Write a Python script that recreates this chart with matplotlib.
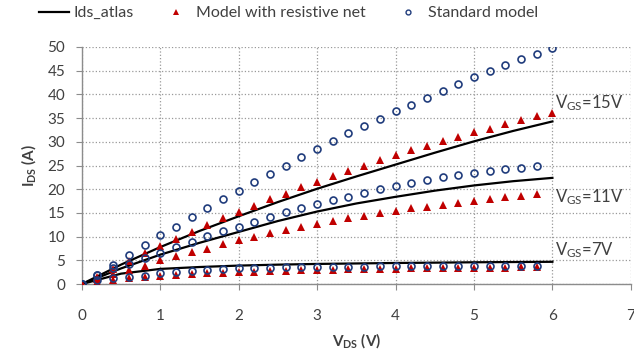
import numpy as np
import matplotlib
matplotlib.use("Agg")
import matplotlib.pyplot as plt
from matplotlib.lines import Line2D

plt.rcParams['font.family'] = ['Lato', 'DejaVu Sans']
plt.rcParams['mathtext.fontset'] = 'custom'
plt.rcParams['mathtext.rm'] = 'Lato'
plt.rcParams['mathtext.bf'] = 'Lato:bold'
plt.rcParams['mathtext.it'] = 'Lato:italic'

# VDS sweep for the markers (step 0.2 V)
vds_pts = np.round(np.arange(0, 6.01, 0.2), 1)
# VDS for the atlas curves
vds_atlas = [0, 0.5, 1, 1.5, 2, 2.5, 3, 3.5, 4, 4.5, 5, 5.5, 6]

atlas_15 = [0, 4.1, 7.8, 11.2, 14.3, 17.3, 20.1, 22.7, 25.2, 27.7, 30.1, 32.3, 34.3]
atlas_11 = [0, 3.3, 6.2, 8.7, 11.0, 13.3, 15.3, 17.0, 18.4, 19.7, 20.8, 21.7, 22.4]
atlas_7 = [0, 2.2, 3.2, 3.6, 3.9, 4.1, 4.25, 4.35, 4.45, 4.52, 4.6, 4.65, 4.7]

# Model with resistive net (triangles)
res_15 = [0, 1.5, 3.2, 4.9, 6.5, 8.0, 9.5, 11.0, 12.5, 13.9, 15.3, 16.5, 17.9, 19.1, 20.4, 21.6,
          22.8, 23.9, 25.0, 26.1, 27.2, 28.2, 29.2, 30.2, 31.1, 32.0, 32.8, 33.8, 34.6, 35.4, 36.1]
res_11 = [0, 1.1, 2.1, 3.0, 3.9, 5.1, 6.0, 6.8, 7.5, 8.4, 9.2, 10.0, 10.7, 11.4, 12.0, 12.6,
          13.3, 13.9, 14.3, 14.9, 15.5, 16.0, 16.3, 16.7, 17.2, 17.5, 17.9, 18.3, 18.6, 18.9]
res_7 = [0, 0.4, 0.8, 1.2, 1.5, 1.7, 1.9, 2.1, 2.3, 2.4, 2.5, 2.6, 2.7, 2.8, 2.9, 3.0,
         3.05, 3.1, 3.15, 3.2, 3.25, 3.3, 3.3, 3.35, 3.4, 3.4, 3.45, 3.45, 3.5, 3.5]

# Standard model (circles)
std_15 = [0, 2.0, 4.1, 6.1, 8.2, 10.3, 12.1, 14.1, 16.0, 17.9, 19.7, 21.5, 23.2, 25.0, 26.7, 28.5,
          30.1, 31.8, 33.3, 34.9, 36.4, 37.8, 39.3, 40.8, 42.2, 43.6, 44.9, 46.1, 47.4, 48.6, 49.8]
std_11 = [0, 1.9, 3.3, 4.3, 5.4, 6.6, 7.9, 8.9, 10.1, 11.1, 12.1, 13.1, 14.2, 15.1, 16.0, 16.9,
          17.7, 18.4, 19.3, 20.0, 20.7, 21.4, 21.9, 22.5, 22.9, 23.5, 23.9, 24.3, 24.5, 24.9]
std_7 = [0, 0.9, 1.3, 1.5, 1.8, 2.3, 2.5, 2.8, 3.0, 3.2, 3.3, 3.4, 3.45, 3.5, 3.55, 3.6,
         3.65, 3.7, 3.7, 3.75, 3.75, 3.8, 3.8, 3.8, 3.85, 3.85, 3.85, 3.9, 3.9, 3.9]

vgs_labels = ["15V", "11V", "7V"]
vgs_label_y = [38.2, 18.4, 7.2]

red = '#C00000'
navy = '#203C7C'
txt = '#404040'

fig = plt.figure(figsize=(6.34, 3.56), dpi=100)
ax = fig.add_axes([0.129, 0.202, 0.866, 0.666])

for atlas in (atlas_15, atlas_11, atlas_7):
    ax.plot(vds_atlas, atlas, color='black', lw=1.6, zorder=3)

for res in (res_15, res_11, res_7):
    ax.plot(vds_pts[:len(res)], res, ls='none', marker='^', ms=5.8, color=red,
            markeredgewidth=0, zorder=4)

for std in (std_15, std_11, std_7):
    ax.plot(vds_pts[:len(std)], std, ls='none', marker='o', ms=5, mfc='none',
            mec=navy, mew=1.2, zorder=5)

for lab, y in zip(vgs_labels, vgs_label_y):
    ax.text(6.03, y, r'V$_{\mathrm{GS}}$=' + lab, fontsize=12, color=txt,
            va='center', ha='left', zorder=6)

ax.set_xlim(0, 7)
ax.set_ylim(0, 50)
ax.set_xticks(range(0, 8))
ax.set_yticks(range(0, 51, 5))
ax.grid(True, ls=':', color='#999999', lw=0.9)
ax.set_axisbelow(True)
for s in ('top', 'right'):
    ax.spines[s].set_visible(False)
for s in ('left', 'bottom'):
    ax.spines[s].set_color('#8C8C8C')
    ax.spines[s].set_linewidth(1.0)
ax.tick_params(axis='y', length=4, color='#8C8C8C', pad=8, labelsize=11, labelcolor=txt)
ax.tick_params(axis='x', length=4, color='#8C8C8C', pad=14, labelsize=11, labelcolor=txt)
ax.set_xlabel(r'$\mathbf{V_{DS}}$ (V)', fontsize=11, fontweight='bold', color=txt, labelpad=6)
ax.set_ylabel(r'$\mathbf{I_{DS}}$ (A)', fontsize=11, fontweight='bold', color=txt, labelpad=7)

handles = [
    Line2D([], [], color='black', lw=1.6),
    Line2D([], [], ls='none', marker='^', ms=4, color=red, markeredgewidth=0),
    Line2D([], [], ls='none', marker='o', ms=3.5, mfc='none', mec=navy, mew=1.0),
]
labels = ['Ids_atlas', 'Model with resistive net', 'Standard model']
fig.legend(handles, labels, loc='center', bbox_to_anchor=(0.455, 0.963), ncol=3,
           frameon=False, fontsize=11.5, handlelength=1.9, handletextpad=0.3,
           columnspacing=1.7, labelcolor=txt)

fig.savefig('out.png', dpi=100)
